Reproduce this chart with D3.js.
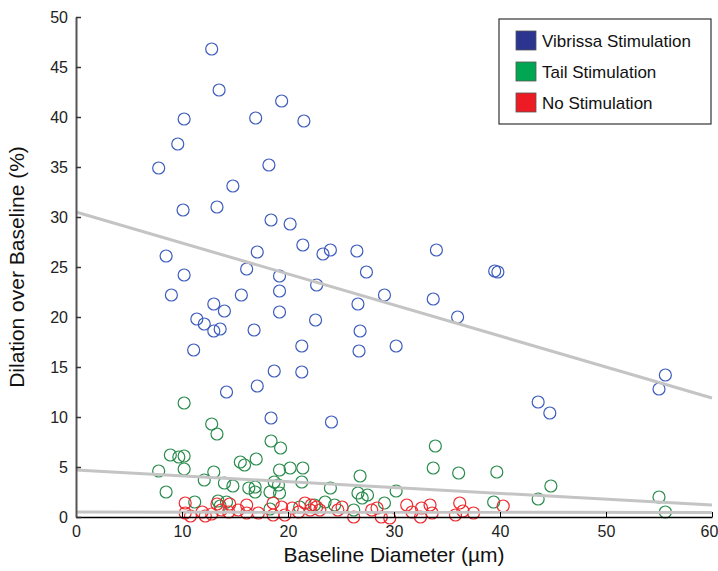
<!DOCTYPE html>
<html>
<head>
<meta charset="utf-8">
<script src="https://cdn.jsdelivr.net/npm/d3@7"></script>
<style>
  body { margin: 0; background: #fff; }
  svg { display: block; font-family: Arial, "Liberation Sans", sans-serif; }
</style>
</head>
<body>
<div id="chart"></div>
<script>
// series: [baseline diameter (µm), dilation (%)]
const vibrissa = [
  [12.8, 46.8], [13.5, 42.7], [19.4, 41.6], [10.2, 39.8], [16.95, 39.9], [21.5, 39.6],
  [9.6, 37.3], [7.8, 34.9], [18.2, 35.2], [14.8, 33.1], [10.1, 30.7], [13.3, 31.0],
  [18.4, 29.7], [20.2, 29.3], [21.4, 27.2], [23.3, 26.3], [24.0, 26.7], [26.5, 26.6],
  [8.5, 26.1], [17.1, 26.5], [16.1, 24.8], [10.2, 24.2], [19.2, 24.1], [22.7, 23.2],
  [9.0, 22.2], [15.6, 22.2], [19.2, 22.6], [26.6, 21.3], [13.0, 21.3], [14.0, 20.6],
  [19.2, 20.5], [11.4, 19.8], [12.1, 19.3], [22.6, 19.7], [13.0, 18.6], [13.6, 18.8],
  [16.8, 18.7], [26.8, 18.6], [11.1, 16.7], [21.3, 17.1], [26.7, 16.6], [18.7, 14.6],
  [21.3, 14.5], [17.1, 13.1], [14.2, 12.5], [34.0, 26.7], [27.4, 24.5], [39.5, 24.6],
  [39.8, 24.5], [29.1, 22.2], [33.7, 21.8], [36.0, 20.0], [30.2, 17.1], [55.6, 14.2],
  [55.0, 12.8], [43.6, 11.5], [44.7, 10.4], [18.4, 9.9], [24.1, 9.5]
];
const tail = [
  [10.2, 11.4], [12.8, 9.3], [13.3, 8.3], [8.9, 6.2], [9.7, 6.0], [10.2, 6.1],
  [10.2, 4.8], [7.8, 4.6], [12.1, 3.7], [13.0, 4.5], [14.0, 3.4], [14.8, 3.1],
  [8.5, 2.5], [11.2, 1.5], [13.4, 1.6], [14.2, 1.5], [13.6, 1.1], [15.5, 5.5],
  [15.9, 5.2], [16.3, 2.9], [18.4, 7.6], [19.3, 6.9], [17.0, 5.8], [19.2, 4.7],
  [20.2, 4.9], [21.4, 4.9], [21.3, 3.5], [18.7, 3.5], [19.1, 3.2], [16.9, 3.0],
  [16.9, 2.5], [18.3, 2.5], [19.2, 2.4], [24.0, 2.9], [23.5, 1.5], [24.4, 1.2],
  [18.3, 0.8], [21.1, 1.0], [22.5, 1.2], [33.9, 7.1], [33.7, 4.9], [26.8, 4.1],
  [30.2, 2.6], [26.6, 2.4], [27.5, 2.2], [27.0, 1.9], [29.1, 1.4], [26.2, 0.7],
  [36.1, 4.4], [39.7, 4.5], [39.4, 1.5], [43.6, 1.8], [44.8, 3.1], [55.0, 2.0],
  [55.6, 0.5]
];
const noStim = [
  [10.3, 1.4], [10.3, 0.4], [10.8, 0.1], [11.9, 0.5], [12.2, 0.1], [12.8, 0.3],
  [13.3, 1.3], [13.7, 0.7], [14.5, 1.3], [14.4, 0.5], [15.3, 0.7], [16.1, 1.2],
  [16.1, 0.4], [17.2, 0.4], [18.6, 1.4], [19.4, 1.0], [19.7, 0.2], [18.6, 0.2],
  [20.4, 0.9], [21.0, 0.5], [21.6, 1.4], [22.2, 1.2], [22.7, 1.0], [22.1, 0.7],
  [23.0, 0.7], [24.7, 0.7], [25.1, 1.0], [26.2, 0.0], [27.9, 0.7], [28.4, 0.9],
  [28.8, 0.0], [29.6, -0.1], [31.2, 1.2], [31.7, 0.5], [32.5, 0.0], [32.6, 0.9],
  [33.4, 1.2], [33.6, 0.4], [36.2, 1.4], [35.8, 0.2], [36.5, 0.6], [37.5, 0.4],
  [40.3, 1.1]
];
// linear fits, endpoints at x = 0 and x = 60
const fitVibrissa = [[0, 30.5], [60, 11.9]];
const fitTail = [[0, 4.7], [60, 1.2]];
const fitNone = [[0, 0.5], [60, 0.45]];

const xTicks = [0, 10, 20, 30, 40, 50, 60];
const yTicks = [0, 5, 10, 15, 20, 25, 30, 35, 40, 45, 50];
const legendLabels = ["Vibrissa Stimulation", "Tail Stimulation", "No Stimulation"];
const swatchColors = ["#2b3590", "#00a651", "#ed1c24"];
const markerColors = ["#3d5cbd", "#2a8c4c", "#ee2a2e"];

const W = 718, H = 571;
const margin = {top: 17, right: 6, bottom: 54, left: 76};
const width = W - margin.left - margin.right;
const height = H - margin.top - margin.bottom;

const svg = d3.select("#chart").append("svg")
    .attr("width", W)
    .attr("height", H);

const g = svg.append("g")
    .attr("transform", `translate(${margin.left},${margin.top})`);

const x = d3.scaleLinear().domain([0, 60]).range([0, width]);
const y = d3.scaleLinear().domain([0, 50]).range([height, 0]);

// points
[vibrissa, tail, noStim].forEach((series, i) => {
    g.append("g").selectAll("circle")
        .data(series)
        .enter()
        .append("circle")
        .attr("cx", d => x(d[0]))
        .attr("cy", d => y(d[1]))
        .attr("r", 6)
        .attr("fill", "none")
        .attr("stroke", markerColors[i])
        .attr("stroke-width", 1.2);
});

// fit lines
const line = d3.line().x(d => x(d[0])).y(d => y(d[1]));
[fitVibrissa, fitTail, fitNone].forEach(f => {
    g.append("path")
        .attr("d", line(f))
        .attr("fill", "none")
        .attr("stroke", "#c4c4c4")
        .attr("stroke-width", 3);
});

// axes
const xAxis = g.append("g")
    .attr("transform", `translate(0,${height})`)
    .call(d3.axisBottom(x).tickValues(xTicks).tickSizeInner(-5).tickSizeOuter(0).tickPadding(9));
xAxis.select(".domain").attr("stroke", "#000").attr("stroke-width", 1.5);
xAxis.selectAll(".tick line").attr("stroke", "#000");
// keep the last label inside the window
xAxis.selectAll(".tick text").filter(d => d === 60).attr("dx", -3);

const yAxis = g.append("g")
    .call(d3.axisLeft(y).tickValues(yTicks).tickSizeInner(-5).tickSizeOuter(0).tickPadding(8));
yAxis.select(".domain").attr("stroke", "#555").attr("stroke-width", 2);
yAxis.selectAll(".tick line").attr("stroke", "#333").attr("stroke-width", 1.5);

g.selectAll(".tick text")
    .attr("fill", "#222")
    .style("font-size", "16px")
    .style("font-family", "Arial, 'Liberation Sans', sans-serif");

// axis titles
g.append("text")
    .attr("x", width / 2)
    .attr("y", height + 45)
    .attr("text-anchor", "middle")
    .attr("fill", "#111")
    .style("font-size", "21px")
    .text("Baseline Diameter (\u00b5m)");

g.append("text")
    .attr("transform", "rotate(-90)")
    .attr("x", -height / 2)
    .attr("y", -52)
    .attr("text-anchor", "middle")
    .attr("fill", "#111")
    .style("font-size", "21px")
    .text("Dilation over Baseline (%)");

// legend
const legend = svg.append("g").attr("transform", "translate(499,19)");
legend.append("rect")
    .attr("width", 212)
    .attr("height", 105)
    .attr("fill", "#fff")
    .attr("stroke", "#333")
    .attr("stroke-width", 1.2);

legendLabels.forEach((label, i) => {
    const row = legend.append("g").attr("transform", `translate(17,${12 + i * 31})`);
    row.append("rect")
        .attr("width", 20)
        .attr("height", 19)
        .attr("fill", swatchColors[i])
        .attr("stroke", "#555")
        .attr("stroke-width", 0.8);
    row.append("text")
        .attr("x", 26)
        .attr("y", 16)
        .attr("fill", "#111")
        .style("font-size", "17px")
        .text(label);
});
</script>
</body>
</html>
